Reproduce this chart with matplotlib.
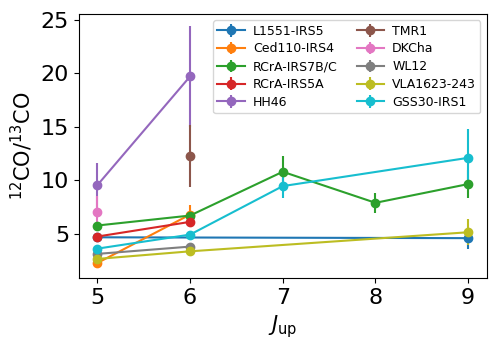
import matplotlib
matplotlib.use("Agg")
import matplotlib.pyplot as plt

# Data: J_up, ratio, error for each source
sources = ["L1551-IRS5", "Ced110-IRS4", "RCrA-IRS7B/C", "RCrA-IRS5A", "HH46",
           "TMR1", "DKCha", "WL12", "VLA1623-243", "GSS30-IRS1"]

l1551_j = [5, 9]
l1551_r = [4.68, 4.6]
l1551_e = [0.15, 1.0]

ced110_j = [5, 6]
ced110_r = [2.28, 6.8]
ced110_e = [0.28, 0.9]

irs7_j = [5, 6, 7, 8, 9]
irs7_r = [5.78, 6.71, 10.8, 7.9, 9.65]
irs7_e = [0.3, 0.3, 1.5, 0.95, 1.3]

irs5a_j = [5, 6]
irs5a_r = [4.75, 6.12]
irs5a_e = [0.3, 0.4]

hh46_j = [5, 6]
hh46_r = [9.55, 19.7]
hh46_e = [2.1, 4.7]

tmr1_j = [6]
tmr1_r = [12.24]
tmr1_e = [2.9]

dkcha_j = [5]
dkcha_r = [7.02]
dkcha_e = [1.5]

wl12_j = [5, 6]
wl12_r = [3.13, 3.81]
wl12_e = [0.2, 0.2]

vla_j = [5, 6, 9]
vla_r = [2.66, 3.37, 5.15]
vla_e = [0.2, 0.2, 1.2]

gss30_j = [5, 6, 7, 9]
gss30_r = [3.62, 4.93, 9.46, 12.1]
gss30_e = [0.3, 0.3, 1.15, 2.7]

series = [
    (l1551_j, l1551_r, l1551_e),
    (ced110_j, ced110_r, ced110_e),
    (irs7_j, irs7_r, irs7_e),
    (irs5a_j, irs5a_r, irs5a_e),
    (hh46_j, hh46_r, hh46_e),
    (tmr1_j, tmr1_r, tmr1_e),
    (dkcha_j, dkcha_r, dkcha_e),
    (wl12_j, wl12_r, wl12_e),
    (vla_j, vla_r, vla_e),
    (gss30_j, gss30_r, gss30_e),
]

fig = plt.figure(figsize=(5.02, 3.53), dpi=100)
ax = fig.add_axes([0.157, 0.2125, 0.8125, 0.7475])

for name, (j, r, e) in zip(sources, series):
    ax.errorbar(j, r, yerr=e, marker="o", label=name)

ax.set_xticks([5, 6, 7, 8, 9])
ax.set_yticks([5, 10, 15, 20, 25])
ax.tick_params(axis="both", labelsize=16)
ax.set_xlabel(r"$J_{\rm up}$", fontsize=15)
ax.set_ylabel(r"$^{12}$CO/$^{13}$CO", fontsize=15)
ax.legend(ncol=2, fontsize=9, loc="upper right", borderpad=0.35,
          labelspacing=0.38, handlelength=2.2, handletextpad=0.65,
          columnspacing=1.5)

fig.savefig("out.png", dpi=100)
